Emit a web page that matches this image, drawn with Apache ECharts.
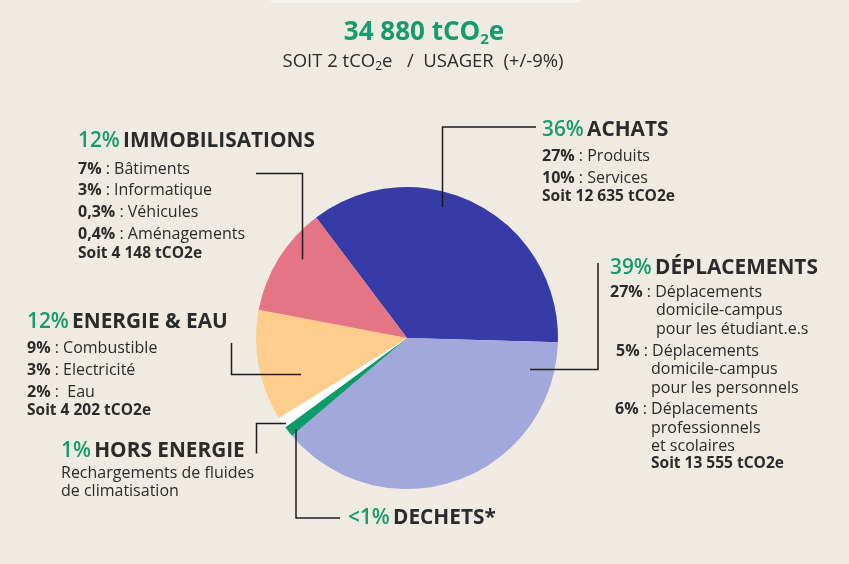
<!DOCTYPE html>
<html><head><meta charset="utf-8">
<script src="https://cdn.jsdelivr.net/npm/echarts@6/dist/echarts.min.js"></script>
<style>html,body{margin:0;padding:0;background:#efebe2}#c{width:849px;height:564px}</style>
</head><body><div id="c"></div>
<script>
// ---- data ----
const categories = ['Achats', 'Déplacements', 'Déchets', 'Hors énergie', 'Energie & eau', 'Immobilisations'];
const valuesT = [12635, 13555, 400, 420, 4202, 4148]; // tCO2e (small ones)
const sliceColors = ['#373ba8', '#a2a8dc', '#0e9a6a', '#ffffff', '#fecd8c', '#e57585'];
const shares = ['36%', '39%', '<1%', '1%', '12%', '12%'];
const headings = ['ACHATS', 'DÉPLACEMENTS', 'DECHETS*', 'HORS ENERGIE', 'ENERGIE & EAU', 'IMMOBILISATIONS'];
const totalLabel = '34 880 tCO';
const achatsLines = [['27%', 'Produits'], ['10%', 'Services']];
const achatsTotal = 'Soit 12 635 tCO2e';
const immoLines = [['7%', 'Bâtiments'], ['3%', 'Informatique'], ['0,3%', 'Véhicules'], ['0,4%', 'Aménagements']];
const immoTotal = 'Soit 4 148 tCO2e';
const energieLines = [['9%', 'Combustible'], ['3%', 'Electricité'], ['2%', ' Eau']];
const energieTotal = 'Soit 4 202 tCO2e';
const horsLines = ['Rechargements de fluides', 'de climatisation'];
const deplLines = [
  ['27%', ['Déplacements', 'domicile-campus', 'pour les étudiant.e.s']],
  ['5%', ['Déplacements', 'domicile-campus', 'pour les personnels']],
  ['6%', ['Déplacements', 'professionnels', 'et scolaires']]
];
const deplTotal = 'Soit 13 555 tCO2e';

// ---- styles ----
const F = 'Open Sans';
const DARK = '#2b2b2b';
const GREEN = '#179a6c';
const HS = 20.8; // heading size
const SS = 16;   // sub size
const richH = {
  g: { fill: GREEN, fontSize: HS, fontFamily: F, fontWeight: 600 },
  d: { fill: DARK, fontSize: HS, fontFamily: F, fontWeight: 700 }
};
const richS = {
  b: { fill: DARK, fontSize: SS, fontFamily: F, fontWeight: 700 },
  n: { fill: DARK, fontSize: SS, fontFamily: F, fontWeight: 400 }
};
function heading(i, x, y) {
  return { type: 'text', x: x, y: y, style: { text: '{g|' + shares[i] + '} {d|' + headings[i] + '}', rich: richH, verticalAlign: 'middle' } };
}
function sub(pct, txt, x, y) {
  return { type: 'text', x: x, y: y, style: { text: '{b|' + pct + '}{n| : ' + txt + '}', rich: richS, verticalAlign: 'middle' } };
}
function plain(txt, x, y, bold) {
  return { type: 'text', x: x, y: y, style: { text: txt, fill: DARK, fontSize: bold ? SS - 0.5 : SS, fontFamily: F, fontWeight: bold ? 700 : 400, verticalAlign: 'middle' } };
}
function line(pts) {
  return { type: 'polyline', shape: { points: pts }, style: { stroke: '#1e1e1e', lineWidth: 1.5, fill: null }, z: 10 };
}

const g = [];
// top card edge
g.push({ type: 'rect', shape: { x: 268, y: -20, width: 315, height: 23, r: 8 }, style: { fill: '#f8f6f1' } });
// title
g.push({ type: 'text', x: 424, y: 33, style: {
  text: '{t|' + totalLabel + '}{s|2}{t|e}', align: 'center', verticalAlign: 'middle',
  rich: { t: { fill: GREEN, fontSize: 26, fontFamily: F, fontWeight: 700 }, s: { fill: GREEN, fontSize: 15, fontFamily: F, fontWeight: 700, padding: [14, 0, 0, 0] } }
} });
g.push({ type: 'text', x: 423, y: 62, style: {
  text: '{t|SOIT 2 tCO}{s|2}{t|e   /  USAGER  (+/-9%)}', align: 'center', verticalAlign: 'middle',
  rich: { t: { fill: DARK, fontSize: 18.5, fontFamily: F }, s: { fill: DARK, fontSize: 12, fontFamily: F, padding: [10, 0, 0, 0] } }
} });

// Achats
g.push(heading(0, 542, 130));
achatsLines.forEach((l, k) => g.push(sub(l[0], l[1], 542, 156 + k * 22)));
g.push(plain(achatsTotal, 542, 197, true));
g.push(line([[442.5, 207], [442.5, 127], [536, 127]]));

// Deplacements
g.push(heading(1, 610, 268));
const dX = [[610, 656], [616, 651], [615, 651]];
const dY = [292, 351, 409.5];
deplLines.forEach((l, k) => {
  g.push(sub(l[0], l[1][0], dX[k][0], dY[k]));
  g.push(plain(l[1][1], dX[k][1], dY[k] + 18.5));
  g.push(plain(l[1][2], dX[k][1], dY[k] + 37));
});
g.push(plain(deplTotal, 651, 464, true));
g.push(line([[530, 369.5], [598, 369.5], [598, 263]]));

// Immobilisations
g.push(heading(5, 78, 141));
immoLines.forEach((l, k) => g.push(sub(l[0], l[1], 78, 169 + k * 21.7)));
g.push(plain(immoTotal, 78, 253.5, true));
g.push(line([[256, 173.5], [302.5, 173.5], [302.5, 259.5]]));

// Energie
g.push(heading(4, 27, 322.5));
energieLines.forEach((l, k) => g.push(sub(l[0], l[1], 27, 348.5 + k * 22)));
g.push(plain(energieTotal, 27, 411, true));
g.push(line([[231.5, 343], [231.5, 374.5], [301, 374.5]]));

// Hors energie
g.push(heading(3, 61, 451));
horsLines.forEach((t, k) => g.push(plain(t, 61, 473.5 + k * 18)));
g.push(line([[256.5, 453.5], [256.5, 423.5], [286, 423.5]]));

// Dechets
g.push(heading(2, 348, 518));
g.push(line([[296, 429], [296, 518], [340, 518]]));

const chart = echarts.init(document.getElementById('c'), null, { renderer: 'canvas' });
chart.setOption({
  backgroundColor: '#efebe2',
  animation: false,
  series: [{
    type: 'pie',
    center: [407, 338],
    radius: 151,
    startAngle: 127,
    clockwise: true,
    silent: true,
    label: { show: false },
    labelLine: { show: false },
    data: categories.map((c, i) => ({ name: c, value: valuesT[i], itemStyle: { color: sliceColors[i] } }))
  }],
  graphic: g
});
</script></body></html>
